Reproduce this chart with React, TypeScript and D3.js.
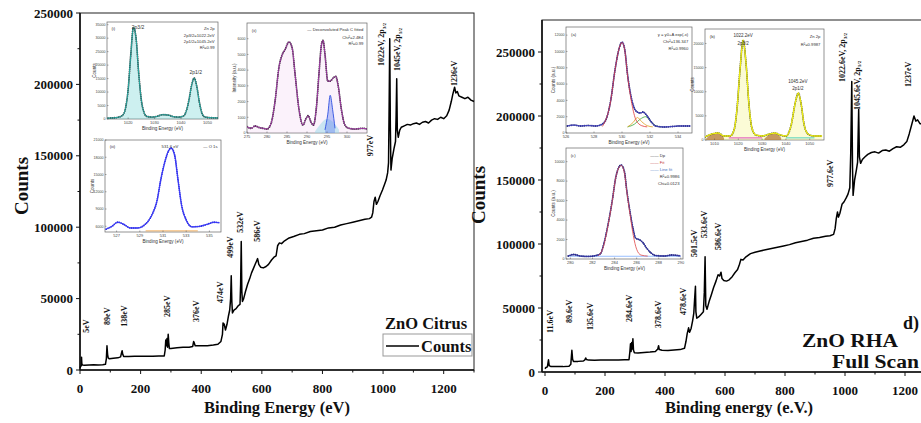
import * as d3 from 'd3';

type Pt = [number, number];

// ---- survey spectra (binding energy eV, counts) ----
const citrusSurvey: Pt[] = [
  [0, 1500], [2, 2500], [4, 3000], [5, 9000], [6, 4500], [8, 3500], [15, 3400], [30, 3500], [45, 3600], [60, 3500],
  [75, 3700], [84, 4000], [87, 8000], [89, 17000], [91, 11000], [93, 8500], [97, 7800], [110, 8200], [125, 8500],
  [134, 9200], [137, 12000], [139, 13500], [141, 11000], [144, 9500], [160, 9500], [180, 9600], [200, 9600],
  [220, 9700], [240, 9600], [260, 9800], [278, 9800], [281, 14000], [283, 21000], [285, 17000], [287, 22000],
  [289, 16000], [291, 25000], [293, 19000], [295, 15000], [300, 15000], [320, 15500], [340, 16000], [360, 16000],
  [372, 16500], [375, 20000], [377, 19000], [380, 17000], [400, 17000], [420, 17000], [440, 17500], [455, 18000],
  [465, 20000], [470, 25000], [472, 33000], [476, 32000], [480, 28000], [485, 32000], [490, 38000], [494, 42000],
  [497, 50000], [499, 66000], [501, 48000], [503, 40000], [508, 42000], [515, 43000], [522, 45000], [528, 46000],
  [530, 60000], [532, 90000], [534, 55000], [536, 48000], [540, 50000], [546, 55000], [553, 60000], [560, 64000],
  [566, 68000], [572, 71000], [578, 74000], [582, 76000], [586, 78000], [590, 74000], [596, 72000], [605, 71500],
  [614, 72500], [622, 74000], [632, 77000], [640, 79000], [647, 80000], [652, 87000], [658, 89000], [665, 88500],
  [675, 90500], [690, 92500], [705, 93500], [724, 95000], [740, 95500], [760, 97000], [780, 97500], [800, 98000],
  [820, 99500], [840, 100000], [860, 101500], [880, 102500], [900, 103500], [920, 104500], [940, 105500],
  [955, 106000], [962, 107000], [966, 110000], [970, 118000], [974, 121000], [978, 116000], [983, 118000],
  [990, 122000], [998, 126000], [1005, 130000], [1010, 133000], [1015, 138000], [1018, 145000], [1020, 185000],
  [1022, 232000], [1024, 170000], [1026, 140000], [1030, 148000], [1036, 155000], [1041, 160000], [1043, 178000],
  [1045, 204000], [1047, 168000], [1050, 163000], [1055, 168000], [1060, 170000], [1070, 171000], [1080, 172000],
  [1090, 171500], [1100, 172500], [1110, 173000], [1120, 172000], [1130, 173500], [1140, 174000], [1150, 173000],
  [1160, 175000], [1170, 176000], [1180, 175500], [1190, 177000], [1200, 176000], [1210, 178000], [1218, 182000],
  [1225, 188000], [1230, 193000], [1236, 198000], [1240, 194000], [1245, 195000], [1250, 192000], [1260, 191000],
  [1270, 190000], [1280, 191000], [1290, 189000], [1300, 188000],
];

const rhaSurvey: Pt[] = [
  [0, 2500], [3, 3500], [8, 4000], [11.6, 9500], [14, 5000], [20, 4200], [40, 4300], [60, 4200], [80, 4500],
  [86, 6000], [89.6, 17000], [92, 10000], [95, 8200], [110, 8300], [128, 8600], [133, 9500], [135.6, 11000],
  [138, 9800], [145, 9300], [165, 9200], [185, 9300], [205, 9300], [225, 9400], [245, 9300], [265, 9500],
  [280, 9600], [283, 16000], [285, 22000], [287, 16000], [289, 23000], [291, 18000], [293, 26000], [295, 17000],
  [298, 15000], [310, 14800], [330, 15300], [350, 15600], [368, 16000], [376, 18000], [378.6, 20500], [381, 17500],
  [390, 17000], [410, 16800], [430, 17200], [450, 17500], [465, 18500], [470, 24000], [474, 30000], [478.6, 34500],
  [482, 31000], [487, 34000], [492, 40000], [496, 46000], [499, 58000], [501.5, 67000], [503, 47000], [506, 42000],
  [512, 43000], [520, 45000], [528, 47000], [531, 62000], [533.6, 90000], [536, 52000], [540, 49000], [547, 55000],
  [554, 60000], [562, 66000], [570, 71000], [577, 76000], [582, 75000], [586.6, 78000], [590, 73000], [596, 71500],
  [605, 71000], [614, 72000], [624, 74500], [633, 77500], [642, 80000], [648, 84000], [653, 88000], [660, 87500],
  [670, 90000], [685, 92500], [700, 93500], [717, 94500], [735, 95500], [755, 96500], [775, 97500], [795, 98500],
  [815, 99500], [835, 101000], [855, 102000], [875, 103000], [895, 104500], [915, 105000], [935, 106000],
  [950, 106500], [962, 107500], [967, 112000], [971, 120000], [975, 125000], [978, 121000], [983, 124000],
  [990, 131000], [997, 133000], [1004, 136000], [1010, 139000], [1016, 144000], [1019, 170000], [1022.6, 227000],
  [1025, 160000], [1027, 138000], [1032, 150000], [1038, 158000], [1042, 164000], [1045.6, 205000], [1048, 168000],
  [1052, 163000], [1058, 166000], [1066, 168000], [1076, 170000], [1088, 171500], [1100, 172000], [1112, 171000],
  [1124, 173000], [1136, 173500], [1148, 172500], [1160, 174500], [1172, 176000], [1184, 175500], [1196, 177500],
  [1206, 180000], [1214, 186000], [1222, 193000], [1230, 200000], [1236, 196000], [1242, 197000], [1250, 194000],
  [1262, 193500], [1275, 193000], [1290, 192000], [1300, 191500],
];

// peak annotations: text, anchored at [energy, counts]
const citrusPeakLabels: { text: string; sub?: string; at: Pt }[] = [
  { text: '5eV', at: [23, 26000] },
  { text: '89eV', at: [92, 31600] },
  { text: '138eV', at: [148, 30200] },
  { text: '285eV', at: [290, 37200] },
  { text: '376eV', at: [386, 33700] },
  { text: '474eV', at: [462, 47000] },
  { text: '499eV', at: [498, 78600] },
  { text: '532eV', at: [528, 96100] },
  { text: '586eV', at: [587, 89800] },
  { text: '977eV', at: [957, 149600] },
  { text: '1022eV, 2p', sub: '3/2', at: [996, 212800] },
  { text: '1045eV, 2p', sub: '1/2', at: [1049, 209300] },
  { text: '1236eV', at: [1237, 198800] },
];

const rhaPeakLabels: { text: string; sub?: string; at: Pt }[] = [
  { text: '11.6eV', at: [17, 30500] },
  { text: '89.6eV', at: [83, 38300] },
  { text: '135.6eV', at: [153, 32800] },
  { text: '284.6eV', at: [283, 39100] },
  { text: '378.6eV', at: [377, 34400] },
  { text: '478.6eV', at: [463, 44500] },
  { text: '501.5eV', at: [497, 89800] },
  { text: '533.6eV', at: [533, 104700] },
  { text: '586.6eV', at: [577, 95300] },
  { text: '977.6eV', at: [950, 144500] },
  { text: '1022.6eV, 2p', sub: '3/2', at: [993, 226500] },
  { text: '1045.6eV, 2p', sub: '1/2', at: [1040, 204700] },
  { text: '1237eV', at: [1210, 222700] },
];

const surveyXTicks = [0, 200, 400, 600, 800, 1000, 1200];
const surveyXMinor = [100, 300, 500, 700, 900, 1100, 1300];
const surveyYTicks = [0, 50000, 100000, 150000, 200000, 250000];
const surveyYMinor = [25000, 75000, 125000, 175000, 225000];

// ---- inset spectra ----
const citrusZn2p: Pt[] = [
  [1012, 300], [1014, 400], [1016, 600], [1018, 1500], [1019, 4000], [1020, 11000], [1021, 24000], [1022, 34000],
  [1023, 30000], [1024, 17000], [1025, 7000], [1026, 2500], [1027, 1000], [1029, 700], [1031, 1000], [1033, 1600],
  [1035, 1500], [1037, 900], [1039, 700], [1041, 1200], [1042, 3000], [1043, 7000], [1044, 12500], [1045, 15200],
  [1046, 12000], [1047, 6000], [1048, 2000], [1049, 800], [1051, 500], [1054, 400],
];

const citrusC1s: Pt[] = [
  [275, 400], [276, 300], [277, 450], [278, 350], [279, 300], [280, 250], [281, 600], [282, 2000], [283, 4200],
  [283.75, 4950], [284.5, 5300], [285.5, 5800], [286.3, 5400], [287, 3800], [288, 1500], [289, 500], [289.7, 900],
  [290.3, 1100], [291, 700], [291.6, 500], [292.3, 1500], [293, 3800], [293.6, 5600], [294, 5900], [294.5, 5000],
  [295.2, 3300], [295.8, 3300], [296.5, 3500], [297.2, 3600], [297.8, 3000], [298.6, 1500], [299.5, 500],
  [300.5, 300], [302, 250], [304, 300], [305, 250],
];
const citrusC1sBlue: Pt[] = [[294.5, 200], [295.2, 1200], [295.8, 2400], [296.4, 1500], [297, 300]];
const citrusC1sCyan: Pt[] = [[292, 100], [293.5, 600], [295, 900], [296.5, 700], [298, 200]];

const citrusO1s: Pt[] = [
  [526.1, 5500], [526.6, 6000], [527.1, 6700], [527.6, 6350], [528.2, 5700], [528.8, 5700], [529.5, 6400],
  [530.05, 8000], [530.5, 10600], [530.8, 14000], [531.2, 17500], [531.5, 19200], [531.7, 19600], [532.0, 18400],
  [532.3, 14000], [532.6, 9700], [533.0, 7100], [533.5, 5900], [534.2, 6000], [534.9, 6400], [535.4, 6700],
  [535.9, 6600],
];
const citrusO1sBase: Pt[] = [[529.5, 5200], [534, 5200]];

const rhaO1s: Pt[] = [
  [526.1, 860], [526.6, 980], [527.0, 860], [527.6, 920], [528.1, 860], [528.6, 1100], [528.9, 1840], [529.2, 4050],
  [529.5, 7730], [529.8, 10400], [530.0, 11160], [530.2, 10180], [530.4, 7110], [530.7, 4050], [531.0, 2700],
  [531.3, 2450], [531.5, 2575], [531.8, 2080], [532.1, 1350], [532.4, 860], [533.0, 736], [533.6, 800],
  [534.1, 860], [534.9, 860],
];
const rhaO1sMain: Pt[] = [
  [528.6, 800], [529.2, 4000], [529.5, 7700], [529.8, 10400], [530, 11100], [530.2, 10100], [530.4, 7000],
  [530.7, 3600], [531.0, 1600], [531.4, 900], [531.8, 750],
];
const rhaO1sOrange: Pt[] = [[530.4, 750], [530.8, 1300], [531.1, 1900], [531.4, 1400], [531.8, 900], [532.2, 750]];
const rhaO1sGreen: Pt[] = [[530.4, 750], [530.9, 1100], [531.3, 1700], [531.7, 2000], [532.0, 1500], [532.4, 900], [532.8, 750]];

const rhaZn2p: Pt[] = [
  [1006, 620], [1009, 1250], [1011.5, 1450], [1014, 830], [1016.5, 830], [1018.2, 2070], [1019.4, 6200],
  [1020.7, 14500], [1022, 20720], [1023.3, 15540], [1024.5, 7250], [1025.7, 2490], [1027.4, 1040], [1030, 830],
  [1033.3, 1250], [1035.4, 1450], [1037.5, 1040], [1040, 830], [1042.2, 3100], [1043.9, 7670], [1045.2, 9740],
  [1046.4, 7460], [1047.6, 3300], [1049.3, 1250], [1051.8, 830], [1055.2, 830],
];
const rhaZnBump1: Pt[] = [[1006.5, 300], [1009, 1200], [1011.5, 1400], [1014, 400]];
const rhaZnBump2: Pt[] = [[1031, 300], [1033.5, 1200], [1035.4, 1400], [1038, 400]];
const rhaZnMagenta: Pt[] = [[1016, 450], [1030, 450]];
const rhaZnCyan: Pt[] = [[1040, 450], [1052, 450]];

const rhaC1s: Pt[] = [
  [279.8, 310], [280.3, 460], [280.9, 310], [281.6, 260], [282.3, 360], [282.7, 510], [283.0, 1440], [283.4, 3490],
  [283.8, 6060], [284.1, 8320], [284.4, 9450], [284.6, 9650], [284.9, 8930], [285.1, 7090], [285.4, 4830],
  [285.7, 2980], [285.9, 2160], [286.3, 1950], [286.6, 1640], [286.9, 1130], [287.3, 620], [287.7, 360],
  [288.5, 310], [289.2, 410], [290.0, 310],
];
const rhaC1sFit: Pt[] = [
  [282.5, 300], [283.0, 1300], [283.4, 3400], [283.8, 6000], [284.1, 8300], [284.4, 9400], [284.6, 9600],
  [284.9, 8800], [285.1, 7000], [285.4, 4600], [285.7, 2400], [286.0, 1000], [286.4, 400], [287, 300],
];
const rhaC1sLinear: Pt[] = [[279.8, 280], [290, 280]];

const FONT = "'Liberation Serif','Times New Roman',serif";

type Series = { data: Pt[]; line?: string; lw?: number; dots?: string; fill?: string; linear?: boolean };
type Note = { text: string; fx: number; fy: number; anchor?: string; size?: number; color?: string };
type InsetCfg = {
  id: string;
  frame: { x: number; y: number; w: number; h: number };
  xDomain: [number, number];
  yDomain: [number, number];
  xTicks: number[];
  yTicks: number[];
  series: Series[];
  notes: Note[];
  xLabel: string;
  yLabel: string;
};

const range = (a: number, b: number, s: number) => d3.range(a, b + s / 2, s);

const insets: InsetCfg[] = [
  {
    id: 'a', frame: { x: 107, y: 22, w: 111, h: 97 }, xDomain: [1012, 1054], yDomain: [0, 36000],
    xTicks: range(1020, 1050, 10), yTicks: range(0, 35000, 5000),
    series: [{ data: citrusZn2p, fill: 'rgba(90,205,205,0.3)', dots: '#2a2a2a', line: '#22b8b0', lw: 0.9 }],
    notes: [
      { text: '(i)', fx: 0.04, fy: 0.07 },
      { text: '2p3/2', fx: 0.28, fy: 0.06, anchor: 'middle', size: 5 },
      { text: '2p1/2', fx: 0.8, fy: 0.52, anchor: 'middle', size: 5 },
      { text: 'Zn 2p', fx: 0.97, fy: 0.07, anchor: 'end' },
      { text: '2p3/2=1022.2eV', fx: 0.97, fy: 0.14, anchor: 'end' },
      { text: '2p1/2=1045.2eV', fx: 0.97, fy: 0.2, anchor: 'end' },
      { text: 'R²=0.99', fx: 0.97, fy: 0.26, anchor: 'end' },
    ],
    xLabel: 'Binding Energy (eV)', yLabel: 'Counts',
  },
  {
    id: 'b', frame: { x: 247, y: 23, w: 120, h: 110 }, xDomain: [275, 305], yDomain: [0, 7000],
    xTicks: range(275, 300, 5), yTicks: range(0, 6000, 1000),
    series: [
      { data: citrusC1sCyan, fill: 'rgba(140,225,235,0.5)' },
      { data: citrusC1s, fill: 'rgba(230,170,230,0.15)', dots: '#222', line: '#b23cb8', lw: 0.9 },
      { data: citrusC1sBlue, line: '#3050e0', lw: 0.9, fill: 'rgba(80,110,240,0.35)' },
    ],
    notes: [
      { text: '(ii)', fx: 0.04, fy: 0.07 },
      { text: '— Deconvoluted Peak C fitted', fx: 0.97, fy: 0.06, anchor: 'end' },
      { text: 'Chi²=2.4E4', fx: 0.97, fy: 0.13, anchor: 'end' },
      { text: 'R²=0.99', fx: 0.97, fy: 0.19, anchor: 'end' },
    ],
    xLabel: 'Binding Energy (eV)', yLabel: 'Intensity (a.u.)',
  },
  {
    id: 'c', frame: { x: 105, y: 140, w: 116, h: 92 }, xDomain: [526, 536], yDomain: [5000, 21000],
    xTicks: range(527, 535, 2), yTicks: range(6000, 21000, 3000),
    series: [
      { data: citrusO1sBase, line: '#f0a040', lw: 0.8, linear: true },
      { data: citrusO1s, dots: '#2424d8', line: '#3b3bff', lw: 0.9 },
    ],
    notes: [
      { text: '(iii)', fx: 0.04, fy: 0.07 },
      { text: '531.6 eV', fx: 0.56, fy: 0.07, anchor: 'middle' },
      { text: '— O 1s', fx: 0.97, fy: 0.07, anchor: 'end' },
    ],
    xLabel: 'Binding Energy (eV)', yLabel: 'Counts',
  },
  {
    id: 'd', frame: { x: 566, y: 27, w: 126, h: 106 }, xDomain: [526, 535], yDomain: [0, 13000],
    xTicks: range(526, 534, 2), yTicks: range(0, 12000, 2000),
    series: [
      { data: rhaO1sGreen, line: '#3aa83a', lw: 0.8 },
      { data: rhaO1sOrange, line: '#e0a020', lw: 0.8 },
      { data: rhaO1s, dots: '#1c1f70', line: '#4a4ad0', lw: 0.8 },
      { data: rhaO1sMain, line: '#e03838', lw: 0.8 },
    ],
    notes: [
      { text: '(a)', fx: 0.04, fy: 0.07 },
      { text: 'y = y0+A exp(-x)', fx: 0.97, fy: 0.07, anchor: 'end' },
      { text: 'Chi²=136.347', fx: 0.97, fy: 0.14, anchor: 'end' },
      { text: 'R²=0.9960', fx: 0.97, fy: 0.2, anchor: 'end' },
    ],
    xLabel: 'Binding Energy (eV)', yLabel: 'Counts (a.u.)',
  },
  {
    id: 'e', frame: { x: 705, y: 29, w: 119, h: 111 }, xDomain: [1006, 1056], yDomain: [0, 23000],
    xTicks: range(1010, 1050, 10), yTicks: range(0, 20000, 5000),
    series: [
      { data: rhaZnBump1, fill: 'rgba(160,82,45,0.75)' },
      { data: rhaZnBump2, fill: 'rgba(160,82,45,0.75)' },
      { data: rhaZnMagenta, line: '#e040e0', lw: 1.2, linear: true },
      { data: rhaZnCyan, line: '#40d0e0', lw: 1.2, linear: true },
      { data: rhaZn2p, fill: 'rgba(240,240,90,0.25)', dots: '#2a2a2a', line: '#eeee10', lw: 1.3 },
    ],
    notes: [
      { text: '(b)', fx: 0.04, fy: 0.07 },
      { text: '1022.2eV', fx: 0.32, fy: 0.06, anchor: 'middle', size: 4.5 },
      { text: '2p3/2', fx: 0.32, fy: 0.13, anchor: 'middle', size: 4.5 },
      { text: '1045.2eV', fx: 0.78, fy: 0.47, anchor: 'middle', size: 4.5 },
      { text: '2p1/2', fx: 0.78, fy: 0.54, anchor: 'middle', size: 4.5 },
      { text: 'Zn 2p', fx: 0.97, fy: 0.07, anchor: 'end' },
      { text: 'R²=0.9987', fx: 0.97, fy: 0.14, anchor: 'end' },
    ],
    xLabel: 'Binding Energy (eV)', yLabel: 'Counts',
  },
  {
    id: 'f', frame: { x: 566, y: 148, w: 117, h: 111 }, xDomain: [279.6, 290.2], yDomain: [0, 11400],
    xTicks: range(280, 290, 2), yTicks: range(0, 10000, 2000),
    series: [
      { data: rhaC1sLinear, line: '#80b0ff', lw: 0.8, linear: true },
      { data: rhaC1s, dots: '#1c1f70', line: '#3a3ab0', lw: 0.8 },
      { data: rhaC1sFit, line: '#e04848', lw: 0.8 },
    ],
    notes: [
      { text: '(c)', fx: 0.04, fy: 0.07 },
      { text: '—— Dp', fx: 0.72, fy: 0.07 },
      { text: '—— Fit', fx: 0.72, fy: 0.13, color: '#c03030' },
      { text: '—— Line fit', fx: 0.72, fy: 0.19, color: '#4070c0' },
      { text: 'R²=0.9986', fx: 0.97, fy: 0.26, anchor: 'end' },
      { text: 'Chi=0.0123', fx: 0.97, fy: 0.32, anchor: 'end' },
    ],
    xLabel: 'Binding Energy (eV)', yLabel: 'Counts (a.u.)',
  },
];

function Inset({ cfg }: { cfg: InsetCfg }) {
  const { x, y, w, h } = cfg.frame;
  const xs = d3.scaleLinear().domain(cfg.xDomain).range([x, x + w]);
  const ys = d3.scaleLinear().domain(cfg.yDomain).range([y + h, y]);
  const mk = (linear?: boolean) =>
    d3.line<Pt>().x(d => xs(d[0])).y(d => ys(d[1])).curve(linear ? d3.curveLinear : d3.curveMonotoneX);
  const area = d3.area<Pt>().x(d => xs(d[0])).y0(ys(cfg.yDomain[0])).y1(d => ys(d[1])).curve(d3.curveMonotoneX);
  return (
    <g fontFamily="Arial, sans-serif">
      <defs>
        <clipPath id={`clip-${cfg.id}`}><rect x={x} y={y} width={w} height={h} /></clipPath>
      </defs>
      <rect x={x} y={y} width={w} height={h} fill="#fff" stroke="#666" strokeWidth={0.7} />
      <g clipPath={`url(#clip-${cfg.id})`}>
        {cfg.series.map((s, i) => (
          <g key={i}>
            {s.fill && <path d={area(s.data) || ''} fill={s.fill} />}
            {s.dots && (
              <path d={mk(s.linear)(s.data) || ''} fill="none" stroke={s.dots} strokeWidth={1.8}
                strokeDasharray="0 1.9" strokeLinecap="round" />
            )}
            {s.line && <path d={mk(s.linear)(s.data) || ''} fill="none" stroke={s.line} strokeWidth={s.lw ?? 0.8} />}
          </g>
        ))}
      </g>
      {cfg.xTicks.map(t => (
        <g key={`x${t}`}>
          <line x1={xs(t)} x2={xs(t)} y1={y + h} y2={y + h - 1.5} stroke="#555" strokeWidth={0.5} />
          <text x={xs(t)} y={y + h + 5} fontSize={4} textAnchor="middle" fill="#444">{t}</text>
        </g>
      ))}
      {cfg.yTicks.map(t => (
        <g key={`y${t}`}>
          <line x1={x} x2={x + 1.5} y1={ys(t)} y2={ys(t)} stroke="#555" strokeWidth={0.5} />
          <text x={x - 1.5} y={ys(t) + 1.3} fontSize={3.6} textAnchor="end" fill="#444">{t}</text>
        </g>
      ))}
      <text x={x + w / 2} y={y + h + 11} fontSize={4.6} textAnchor="middle" fill="#333">{cfg.xLabel}</text>
      <text transform={`translate(${x - 11},${y + h / 2}) rotate(-90)`} fontSize={4.6} textAnchor="middle" fill="#333">
        {cfg.yLabel}
      </text>
      {cfg.notes.map((n, i) => (
        <text key={i} x={x + n.fx * w} y={y + n.fy * h + 1.5} fontSize={n.size ?? 4.2}
          textAnchor={n.anchor ?? 'start'} fill={n.color ?? '#333'}>{n.text}</text>
      ))}
    </g>
  );
}

type SurveyCfg = {
  data: Pt[];
  labels: { text: string; sub?: string; at: Pt }[];
  xDomain: [number, number];
  yDomain: [number, number];
  left: number; right: number; top: number; bottom: number;
  title: string; titleX: number; countsX: number; countsY: number;
};

function Survey({ cfg }: { cfg: SurveyCfg }) {
  const xs = d3.scaleLinear().domain(cfg.xDomain).range([cfg.left, cfg.right]);
  const ys = d3.scaleLinear().domain(cfg.yDomain).range([cfg.bottom, cfg.top]);
  const line = d3.line<Pt>().x(d => xs(d[0])).y(d => ys(d[1]));
  return (
    <g fontFamily={FONT} fontWeight="bold">
      <rect x={cfg.left} y={cfg.top} width={cfg.right - cfg.left} height={cfg.bottom - cfg.top}
        fill="none" stroke="#222" strokeWidth={1} />
      <line x1={cfg.left} x2={cfg.left} y1={cfg.top} y2={cfg.bottom} stroke="#111" strokeWidth={1.6} />
      <line x1={cfg.left} x2={cfg.right} y1={cfg.bottom} y2={cfg.bottom} stroke="#111" strokeWidth={1.6} />
      {surveyXTicks.map(t => (
        <g key={t}>
          <line x1={xs(t)} x2={xs(t)} y1={cfg.bottom} y2={cfg.bottom + 4} stroke="#111" />
          <text x={xs(t)} y={cfg.bottom + 23} fontSize={13} textAnchor="middle" fill="#111">{t}</text>
        </g>
      ))}
      {surveyXMinor.map(t => (
        <line key={t} x1={xs(t)} x2={xs(t)} y1={cfg.bottom} y2={cfg.bottom + 2.5} stroke="#111" />
      ))}
      {surveyYTicks.map(t => (
        <g key={t}>
          <line x1={cfg.left - 4} x2={cfg.left} y1={ys(t)} y2={ys(t)} stroke="#111" />
          <text x={cfg.left - 7} y={ys(t) + 4.5} fontSize={13} textAnchor="end" fill="#111">{t}</text>
        </g>
      ))}
      {surveyYMinor.map(t => (
        <line key={t} x1={cfg.left - 2.5} x2={cfg.left} y1={ys(t)} y2={ys(t)} stroke="#111" />
      ))}
      <path d={line(cfg.data) || ''} fill="none" stroke="#000" strokeWidth={1.5} strokeLinejoin="round" />
      {cfg.labels.map(l => (
        <text key={l.text} transform={`translate(${xs(l.at[0])},${ys(l.at[1])}) rotate(-90)`}
          fontSize={8} dominantBaseline="central" fill="#111">
          {l.text}
          {l.sub && <tspan fontSize={5} dy={2}>{l.sub}</tspan>}
        </text>
      ))}
      <text x={cfg.titleX} y={413} fontSize={16.5} textAnchor="middle" fill="#111">{cfg.title}</text>
      <text transform={`translate(${cfg.countsX},${cfg.countsY}) rotate(-90)`} fontSize={19}
        textAnchor="middle" fill="#111">Counts</text>
    </g>
  );
}

const leftCfg: SurveyCfg = {
  data: citrusSurvey, labels: citrusPeakLabels, xDomain: [0, 1300], yDomain: [0, 250000],
  left: 80, right: 474, top: 13, bottom: 370,
  title: 'Binding Energy (eV)', titleX: 277, countsX: 28, countsY: 186,
};
const rightCfg: SurveyCfg = {
  data: rhaSurvey, labels: rhaPeakLabels, xDomain: [-10, 1300], yDomain: [0, 275000],
  left: 542, right: 935, top: 20, bottom: 372,
  title: 'Binding energy (e.V.)', titleX: 739, countsX: 485, countsY: 195,
};

export default function App() {
  return (
    <div style={{ position: 'absolute', left: 0, top: 0 }}>
      <svg width={921} height={423} style={{ display: 'block', background: '#fff' }}>
        <rect width={921} height={423} fill="#fff" />
        <Survey cfg={leftCfg} />
        <Survey cfg={rightCfg} />
        {insets.map(c => <Inset key={c.id} cfg={c} />)}
        <g fontFamily={FONT} fontWeight="bold" fill="#111">
          <text x={385} y={329} fontSize={16.5}>ZnO Citrus</text>
          <rect x={383} y={334} width={89} height={22} fill="#fff" stroke="#999" strokeWidth={1} />
          <line x1={386} x2={419} y1={346} y2={346} stroke="#000" strokeWidth={1.6} />
          <text x={421} y={352} fontSize={16.5}>Counts</text>
          <text x={903} y={329} fontSize={18}>d)</text>
          <text x={802} y={347} fontSize={18} textLength={96} lengthAdjust="spacingAndGlyphs">ZnO RHA</text>
          <text x={832} y={368} fontSize={18} textLength={87} lengthAdjust="spacingAndGlyphs">Full Scan</text>
        </g>
      </svg>
    </div>
  );
}
